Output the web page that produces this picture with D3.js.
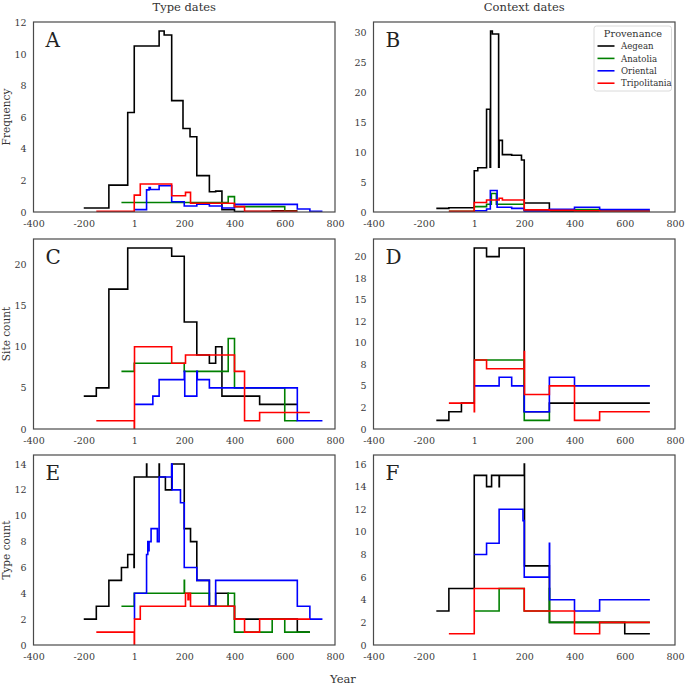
<!DOCTYPE html>
<html>
<head>
<meta charset="utf-8">
<script src="https://cdn.jsdelivr.net/npm/d3@7"></script>
<style>
  body { margin: 0; background: #fff; }
  svg text { font-family: "DejaVu Serif", serif; }
</style>
</head>
<body>
<svg id="chart" width="685" height="686"></svg>
<script>
// step series: [year, value] pairs, last pair closes the final step

// A: type dates, frequency
const typeFreqAegean = [[-200,0.25],[-100,1.7],[-25,6.3],[1,10.5],[100,11.45],[120,11.2],[150,7.05],[195,5.28],[223,4.76],[250,2.3],[300,1.28],[325,1.32],[350,0.14],[400,0.03],[550,0.08],[650,0.08]];
const typeFreqAnatolia = [[-50,0.6],[375,0.97],[400,0.34],[600,0.05],[650,0.05]];
const typeFreqOriental = [[1,0.15],[50,1.4],[60,1.55],[65,1.42],[100,1.66],[150,0.65],[200,0.38],[250,0.5],[300,0.38],[350,0.25],[400,0.48],[650,0.19],[700,0.05],[750,0.05]];
const typeFreqTripolitania = [[-150,0.05],[1,1.07],[25,1.77],[150,1.03],[205,1.24],[225,0.55],[400,0.34],[440,0.05],[650,0.05]];

// B: context dates, frequency
const contextFreqAegean = [[-150,0.6],[-100,0.7],[1,6.9],[15,7.4],[50,17.2],[64,7.5],[66,30.3],[73,29.8],[98,7.5],[100,12],[113,9.6],[150,9.5],[189,8.7],[200,1.5],[300,0.1],[700,0.1]];
const contextFreqAnatolia = [[-100,0.1],[1,0.9],[50,1.3],[69,3.1],[89,1.3],[200,0.3],[400,0.4],[500,0.1],[700,0.1]];
const contextFreqOriental = [[1,0.2],[50,0.5],[65,3.6],[92,0.8],[150,0.6],[200,0.15],[300,0.45],[400,0.8],[500,0.4],[700,0.4]];
const contextFreqTripolitania = [[-100,0.1],[1,1.6],[50,2.0],[100,2.3],[113,2.0],[200,0.35],[300,0.3],[400,0.2],[500,0.1],[700,0.1]];

// C: type dates, site count
const typeSiteAegean = [[-200,4],[-150,5],[-100,17],[-25,22],[150,21],[200,13],[250,9],[300,8],[325,10],[350,4],[500,3],[650,3]];
const typeSiteAnatolia = [[-50,7],[1,8],[200,7],[375,11],[400,5],[600,1],[650,1]];
const typeSiteOriental = [[1,3],[75,4],[100,6],[200,7],[202,4],[250,7],[252,6],[300,5],[650,1],[750,1]];
const typeSiteTripolitania = [[-150,1],[1,0],[2,10],[150,8],[205,9],[400,7],[440,1],[500,2],[700,2]];

// D: context dates, site count
const contextSiteAegean = [[-150,1],[-100,2],[-50,3],[1,21],[50,20],[100,21],[200,2],[300,3],[700,3]];
const contextSiteAnatolia = [[1,8],[200,1],[300,2]];
const contextSiteOriental = [[1,5],[100,6],[150,5],[200,2],[300,6],[400,5],[700,5]];
const contextSiteTripolitania = [[-100,3],[1,2],[2,8],[50,7],[200,9],[201,4],[300,5],[400,1],[500,2],[700,2]];

// E: type dates, type count
const typeTypeAegean = [[-200,2],[-150,3],[-100,5],[-50,6],[-25,7],[0,6],[1,13],[50,14],[51,13],[100,14],[101,13],[125,12],[150,14],[200,9],[225,8],[250,5],[300,3],[325,4],[375,3],[400,2],[650,1],[700,1]];
const typeTypeAnatolia = [[-50,3],[1,4],[200,5],[201,4],[300,3],[375,4],[400,1],[550,2],[600,1],[700,1]];
const typeTypeOriental = [[1,2],[2,4],[50,7],[55,8],[58,7.3],[60,8],[68,9],[93,8],[100,13],[150,14],[152,12],[185,11],[200,6],[250,5],[300,3],[325,5],[650,3],[700,2],[750,2]];
const typeTypeTripolitania = [[-150,1],[1,0],[2,2],[25,3],[205,4],[215,3.5],[218,4],[225,3],[400,2],[440,1],[500,2],[700,2]];

// F: context dates, type count
const contextTypeAegean = [[-150,3],[-100,5],[1,15],[50,14],[70,15],[100,14],[101,15],[200,16],[201,7],[300,2],[600,1],[700,1]];
const contextTypeAnatolia = [[1,3],[100,5],[200,3],[300,5],[301,2],[700,2]];
const contextTypeOriental = [[1,8],[50,9],[100,12],[195,11],[200,6],[300,9],[301,4],[400,3],[500,4],[700,4]];
const contextTypeTripolitania = [[-100,1],[1,5],[200,3],[400,1],[500,2],[700,2]];

const provenances = ["Aegean", "Anatolia", "Oriental", "Tripolitania"];
const colours = ["#000000", "#008000", "#0000ff", "#ff0000"];
const xTicks = [-400, -200, 1, 200, 400, 600, 800];
const xTickLabels = ["-400", "-200", "1", "200", "400", "600", "800"];
const columnTitles = ["Type dates", "Context dates"];
const rowTitles = ["Frequency", "Site count", "Type count"];

const yTicksA = [0, 2, 4, 6, 8, 10, 12];
const yTicksB = [0, 5, 10, 15, 20, 25, 30];
const yTicksC = [0, 5, 10, 15, 20];
const yTicksD = [0, 2.5, 5, 7.5, 10, 12.5, 15, 17.5, 20];
const yTickLabelsD = ["0", "2", "5", "8", "10", "12", "15", "18", "20"];
const yTicksE = [0, 2, 4, 6, 8, 10, 12, 14];
const yTicksF = [0, 2, 4, 6, 8, 10, 12, 14, 16];

var panels = [
  { letter: "A", col: 0, row: 0, ymax: 11.45, ticks: yTicksA, series: [typeFreqAegean, typeFreqAnatolia, typeFreqOriental, typeFreqTripolitania] },
  { letter: "B", col: 1, row: 0, ymax: 30.3, ticks: yTicksB, series: [contextFreqAegean, contextFreqAnatolia, contextFreqOriental, contextFreqTripolitania], legend: true },
  { letter: "C", col: 0, row: 1, ymax: 22, ticks: yTicksC, series: [typeSiteAegean, typeSiteAnatolia, typeSiteOriental, typeSiteTripolitania] },
  { letter: "D", col: 1, row: 1, ymax: 21, ticks: yTicksD, tickLabels: yTickLabelsD, series: [contextSiteAegean, contextSiteAnatolia, contextSiteOriental, contextSiteTripolitania] },
  { letter: "E", col: 0, row: 2, ymax: 14, ticks: yTicksE, series: [typeTypeAegean, typeTypeAnatolia, typeTypeOriental, typeTypeTripolitania] },
  { letter: "F", col: 1, row: 2, ymax: 16, ticks: yTicksF, series: [contextTypeAegean, contextTypeAnatolia, contextTypeOriental, contextTypeTripolitania] },
];

var colLeft = [33.5, 373.5],
  plotWidth = 301.5,
  rowTop = [22, 239, 455],
  plotHeight = 190;

var svg = d3.select("#chart");

panels.forEach(function (p) {
  var g = svg
    .append("g")
    .attr("transform", "translate(" + colLeft[p.col] + "," + rowTop[p.row] + ")");

  var x = d3.scaleLinear().domain([-400, 800]).range([0, plotWidth]);
  var y = d3.scaleLinear().domain([0, p.ymax * 1.05]).range([plotHeight, 0]);

  // x axis
  var xAxis = g
    .append("g")
    .attr("transform", "translate(0," + plotHeight + ")")
    .call(
      d3.axisBottom(x)
        .tickValues(xTicks)
        .tickSize(0)
        .tickPadding(8)
        .tickFormat(function (d, i) { return xTickLabels[i]; })
    );
  xAxis.select(".domain").remove();
  xAxis.selectAll("text").style("font-size", "9.5px").attr("fill", "#3a3a3a");

  // y axis
  var yAxis = g.append("g").call(
    d3.axisLeft(y)
      .tickValues(p.ticks)
      .tickSize(0)
      .tickPadding(7)
      .tickFormat(function (d, i) { return p.tickLabels ? p.tickLabels[i] : d; })
  );
  yAxis.select(".domain").remove();
  yAxis.selectAll("text").style("font-size", "9.5px").attr("fill", "#3a3a3a");

  // clip lines to plot area
  var clipId = "clip" + p.letter;
  g.append("clipPath").attr("id", clipId)
    .append("rect").attr("width", plotWidth).attr("height", plotHeight);

  var line = d3
    .line()
    .x(function (d) { return x(d[0]); })
    .y(function (d) { return y(d[1]); })
    .curve(d3.curveStepAfter);

  p.series.forEach(function (s, i) {
    g.append("path")
      .datum(s)
      .attr("clip-path", "url(#" + clipId + ")")
      .attr("fill", "none")
      .attr("stroke", colours[i])
      .attr("stroke-width", 1.6)
      .attr("d", line);
  });

  // frame
  g.append("rect")
    .attr("width", plotWidth)
    .attr("height", plotHeight)
    .attr("fill", "none")
    .attr("stroke", "#4a4a4a")
    .attr("stroke-width", 1.2);

  g.append("text")
    .attr("x", 12)
    .attr("y", 25)
    .style("font-size", "20px")
    .attr("fill", "#222")
    .text(p.letter);

  if (p.legend) {
    var lg = g.append("g").attr("transform", "translate(" + (plotWidth - 81) + ",4)");
    lg.append("rect")
      .attr("width", 77.5)
      .attr("height", 65)
      .attr("rx", 2.5)
      .attr("fill", "#fff")
      .attr("fill-opacity", 0.85)
      .attr("stroke", "#d6d6d6")
      .attr("stroke-width", 0.9);
    lg.append("text")
      .attr("x", 39)
      .attr("y", 11)
      .attr("text-anchor", "middle")
      .style("font-size", "9.8px")
      .attr("fill", "#333")
      .text("Provenance");
    provenances.forEach(function (name, i) {
      var rowY = 20 + i * 12.4;
      lg.append("line")
        .attr("x1", 3.5).attr("x2", 20.5)
        .attr("y1", rowY).attr("y2", rowY)
        .attr("stroke", colours[i])
        .attr("stroke-width", 1.6);
      lg.append("text")
        .attr("x", 27)
        .attr("y", rowY + 3.2)
        .style("font-size", "8.6px")
        .attr("fill", "#333")
        .text(name);
    });
  }
});

// column titles
columnTitles.forEach(function (t, i) {
  svg.append("text")
    .attr("x", colLeft[i] + plotWidth / 2)
    .attr("y", 11)
    .attr("text-anchor", "middle")
    .style("font-size", "11.5px")
    .attr("fill", "#333")
    .text(t);
});

// row titles
rowTitles.forEach(function (t, i) {
  svg.append("text")
    .attr("transform", "translate(10," + (rowTop[i] + plotHeight / 2) + ") rotate(-90)")
    .attr("text-anchor", "middle")
    .style("font-size", "10.5px")
    .attr("fill", "#333")
    .text(t);
});

svg.append("text")
  .attr("x", 343)
  .attr("y", 683)
  .attr("text-anchor", "middle")
  .style("font-size", "11.5px")
  .attr("fill", "#333")
  .text("Year");
</script>
</body>
</html>
